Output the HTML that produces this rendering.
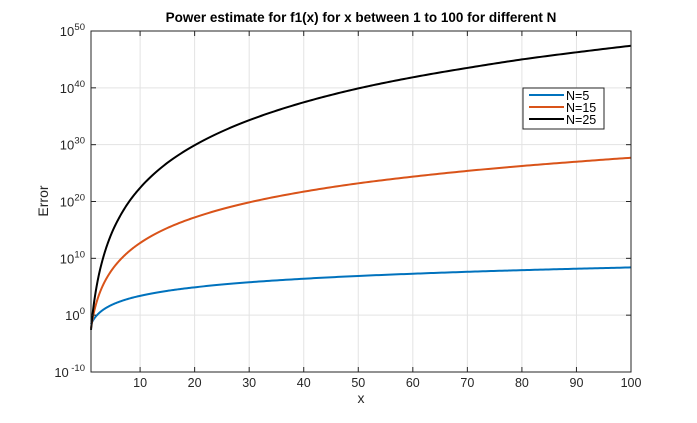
<!DOCTYPE html>
<html><head><meta charset="utf-8">
<style>
html,body{margin:0;padding:0;background:#fff;}
svg text{font-family:"Liberation Sans",Arial,sans-serif;}
</style></head>
<body>
<svg id="chart" width="697" height="418" viewBox="0 0 697 418" xmlns="http://www.w3.org/2000/svg">
<rect width="697" height="418" fill="#fff"/>
<g id="grid"></g>
<g id="series"></g>
<g id="axes"></g>
<text x="361" y="22" text-anchor="middle" font-size="13.5" font-weight="bold" fill="#000">Power estimate for f1(x) for x between 1 to 100 for different N</text>
<text x="361" y="403" text-anchor="middle" font-size="14" fill="#262626">x</text>
<text transform="translate(48,201) rotate(-90)" text-anchor="middle" font-size="14" fill="#262626">Error</text>
<g>
<rect x="523" y="88" width="81" height="41" fill="#fff" stroke="#262626" stroke-width="1"/>
<line x1="529" y1="95" x2="564" y2="95" stroke="#0072bd" stroke-width="2"/>
<text x="566" y="100" font-size="12.5" fill="#000">N=5</text>
<line x1="529" y1="107" x2="564" y2="107" stroke="#d95319" stroke-width="2"/>
<text x="566" y="112" font-size="12.5" fill="#000">N=15</text>
<line x1="529" y1="119" x2="564" y2="119" stroke="#000" stroke-width="2"/>
<text x="566" y="124" font-size="12.5" fill="#000">N=25</text>
</g>
</svg>
<script>
const xs = [1,1.25,1.5,2,2.5,3,4,5,6,8,10,15,20,30,40,50,60,70,80,90,100];
const logN5 = [-1.6,-1.12,-0.72,-0.1,0.39,0.79,1.41,1.9,2.29,2.92,3.4,4.28,4.9,5.79,6.41,6.9,7.29,7.63,7.92,8.17,8.4];
const logN15 = [-2.3,-0.85,0.34,2.2,3.67,4.86,6.73,8.19,9.37,11.25,12.7,15.34,17.2,19.85,21.73,23.2,24.37,25.38,26.25,27.0,27.7];
const logN25 = [-2.6,-0.18,1.8,4.9,7.35,9.3,12.45,14.9,16.85,20.0,22.4,26.8,29.9,34.3,37.45,39.9,41.85,43.5,45.0,46.25,47.4];
const xTicks = [10,20,30,40,50,60,70,80,90,100];
const yTickExps = [-10,0,10,20,30,40,50];

const L=91,R=631,T=31,B=372;
const NS='http://www.w3.org/2000/svg';
function sx(v){return L+(v-1)/99*(R-L);}
function sy(e){return B-(e+10)/60*(B-T);}
function mk(tag,attrs,parent){const el=document.createElementNS(NS,tag);for(const k in attrs)el.setAttribute(k,attrs[k]);parent.appendChild(el);return el;}
const grid=document.getElementById('grid'),axes=document.getElementById('axes'),series=document.getElementById('series');

xTicks.forEach(v=>{
  const x=sx(v);
  const g=mk('line',{x1:x,y1:T,x2:x,y2:B,stroke:'#e3e3e3','stroke-width':1},grid);
  
  
  mk('line',{x1:x,y1:B,x2:x,y2:B-5,stroke:'#262626','stroke-width':1},axes);
  mk('line',{x1:x,y1:T,x2:x,y2:T+5,stroke:'#262626','stroke-width':1},axes);
  const t=mk('text',{x:x,y:B+15,'text-anchor':'middle','font-size':12.5,fill:'#262626'},axes);
  
  
  t.textContent=v;
});
yTickExps.forEach(e=>{
  const y=sy(e);
  const g=mk('line',{x1:L,y1:y,x2:R,y2:y,stroke:'#e3e3e3','stroke-width':1},grid);
  
  
  mk('line',{x1:L,y1:y,x2:L+5,y2:y,stroke:'#262626','stroke-width':1},axes);
  mk('line',{x1:R,y1:y,x2:R-5,y2:y,stroke:'#262626','stroke-width':1},axes);
  const sup=mk('text',{x:L-6,y:y-1,'text-anchor':'end','font-size':9.5,fill:'#262626'},axes);
  
  
  sup.textContent=e;
  const supW=String(e).length*5.4;
  const t=mk('text',{x:L-6-supW,y:y+5,'text-anchor':'end','font-size':13,fill:'#262626'},axes);
  
  
  t.textContent='10';
});
const box=mk('rect',{x:L,y:T,width:R-L,height:B-T,fill:'none',stroke:'#262626','stroke-width':1},axes);



function drawSeries(vals,color,name){
  // draw each segment with straight-in-log-x subdivision
  let d='';
  for(let i=0;i<xs.length-1;i++){
    const a=Math.log10(xs[i]),b=Math.log10(xs[i+1]);
    const n=20;
    for(let k=(i===0?0:1);k<=n;k++){
      const t=k/n;
      const lx=a+(b-a)*t;
      const yv=vals[i]+(vals[i+1]-vals[i])*t;
      const px=sx(Math.pow(10,lx)),py=sy(yv);
      d+=(d===''?'M':' L')+px.toFixed(2)+','+py.toFixed(2);
    }
  }
  const p=mk('path',{d:d,fill:'none',stroke:color,'stroke-width':2,'stroke-linejoin':'round'},series);
  
  
}
drawSeries(logN5,'#0072bd','line-n5');
drawSeries(logN15,'#d95319','line-n15');
drawSeries(logN25,'#000000','line-n25');
</script>
</body></html>
